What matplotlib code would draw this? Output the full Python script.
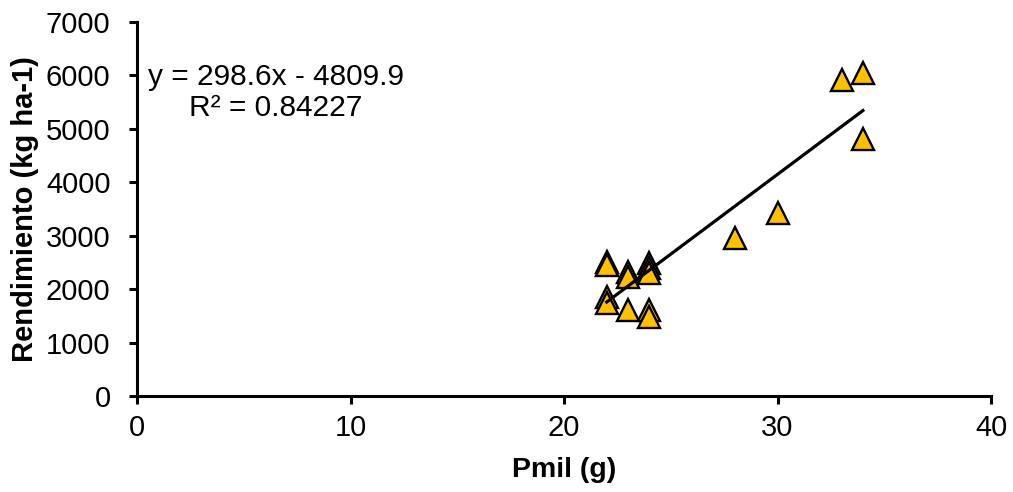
import numpy as np
from matplotlib import pyplot as plt

# Peso de mil granos (g) y rendimiento (kg/ha)
pmil = [22, 22, 22, 22, 23, 23, 23, 24, 24, 24, 24, 24, 28, 30, 33, 34, 34]
rend = [2510, 2450, 1850, 1740, 2320, 2230, 1610, 2490, 2400, 2300, 1610, 1480,
        2960, 3425, 5915, 6045, 4810]

# recta de ajuste lineal
pendiente = 298.6
intercepto = -4809.9
r2 = 0.84227

plt.rcParams['font.family'] = ['Liberation Sans', 'DejaVu Sans']

fig = plt.figure(figsize=(10.13, 4.92), dpi=100)
ax = fig.add_axes([137 / 1013, 1 - 396 / 492, (991 - 137) / 1013, (396 - 22) / 492])

ax.plot(pmil, rend, linestyle='none', marker='^', markersize=16.5,
        markerfacecolor='#FFC000', markeredgecolor='black', markeredgewidth=1.7, zorder=3)

xs = np.array([min(pmil), max(pmil)])
ax.plot(xs, pendiente * xs + intercepto, color='black', linewidth=2.3, zorder=4)

ax.text(6.5, 5680, 'y = %.1fx - %.1f\nR² = %.5f' % (pendiente, -intercepto, r2),
        ha='center', va='center', fontsize=21.5, linespacing=1.1)

ax.set_xlim(0, 40)
ax.set_ylim(0, 7000)
ax.set_xticks([0, 10, 20, 30, 40])
ax.set_yticks(range(0, 7001, 1000))
ax.tick_params(labelsize=21, width=2.2, length=6, direction='out')
ax.tick_params(axis='y', pad=13)
ax.tick_params(axis='x', pad=7)
for s in ['top', 'right']:
    ax.spines[s].set_visible(False)
for s in ['left', 'bottom']:
    ax.spines[s].set_linewidth(2.2)

ax.set_xlabel('Pmil (g)', fontsize=20.5, fontweight='bold', labelpad=11)
ax.set_ylabel('Rendimiento (kg ha-1)', fontsize=21, fontweight='bold', labelpad=5)

plt.savefig('out.png')
